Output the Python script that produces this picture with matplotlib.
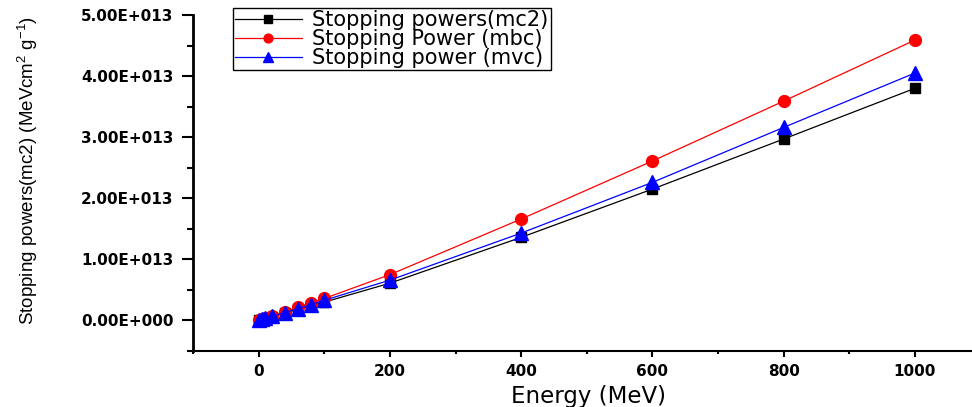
import matplotlib
matplotlib.use("Agg")
import matplotlib.pyplot as plt
from matplotlib.ticker import MultipleLocator, FuncFormatter

energy = [1, 5, 10, 20, 40, 60, 80, 100, 200, 400, 600, 800, 1000]
sp_mc2 = [0.003e13, 0.015e13, 0.03e13, 0.06e13, 0.12e13, 0.18e13, 0.24e13, 0.30e13,
          0.61e13, 1.36e13, 2.15e13, 2.97e13, 3.80e13]
sp_mbc = [0.004e13, 0.018e13, 0.036e13, 0.072e13, 0.145e13, 0.215e13, 0.29e13, 0.36e13,
          0.75e13, 1.66e13, 2.61e13, 3.59e13, 4.59e13]
sp_mvc = [0.0033e13, 0.016e13, 0.033e13, 0.066e13, 0.13e13, 0.195e13, 0.26e13, 0.33e13,
          0.66e13, 1.43e13, 2.26e13, 3.16e13, 4.05e13]
labels = ["Stopping powers(mc2)", "Stopping Power (mbc)", "Stopping power (mvc)"]

fig = plt.figure(figsize=(9.72, 4.07), dpi=100)
ax = fig.add_axes([193/972, 1-351/407, 1-193/972, (351-15)/407])

ax.plot(energy, sp_mc2, color="black", lw=0.9, marker="s", ms=7.5, label=labels[0], zorder=3)
ax.plot(energy, sp_mbc, color="red", lw=0.9, marker="o", ms=8.5, label=labels[1], zorder=3)
ax.plot(energy, sp_mvc, color="blue", lw=0.9, marker="^", ms=9.5, label=labels[2], zorder=4)

ax.set_xlim(-100, 1087)
ax.set_ylim(-0.5e13, 5.0e13)
for s in ["top", "right"]:
    ax.spines[s].set_visible(False)
ax.spines["left"].set_linewidth(2)
ax.spines["bottom"].set_linewidth(1.5)

ax.xaxis.set_major_locator(MultipleLocator(200))
ax.xaxis.set_minor_locator(MultipleLocator(100))
ax.yaxis.set_major_locator(MultipleLocator(1e13))
ax.yaxis.set_minor_locator(MultipleLocator(0.5e13))

def yfmt(v, pos):
    if abs(v) < 1:
        return "0.00E+000"
    return f"{v/1e13:.2f}E+013"
ax.yaxis.set_major_formatter(FuncFormatter(yfmt))

ax.tick_params(axis="y", which="major", direction="out", length=8, width=1.5, pad=6)
ax.tick_params(axis="y", which="minor", direction="out", length=4, width=1.5)
ax.tick_params(axis="x", which="major", direction="out", length=4, width=1.5, pad=5)
ax.tick_params(axis="x", which="minor", direction="out", length=2.5, width=1.5)
for lab in ax.get_xticklabels() + ax.get_yticklabels():
    lab.set_fontfamily("DejaVu Sans")
    lab.set_fontweight("bold")
    lab.set_fontsize(11)

ax.set_xlabel("Energy (MeV)", fontsize=16.5, fontfamily="DejaVu Sans")
ax.xaxis.set_label_coords((588-193)/779, -(396-351)/336)
ax.xaxis.label.set_va("center")
ax.set_ylabel("Stopping powers(mc2) (MeVcm$^{\\mathregular{2}}$ g$^{\\mathregular{-1}}$)",
              fontsize=13.5, fontfamily="Liberation Sans")
ax.yaxis.set_label_coords((28-193)/779, (351-170)/336)
ax.yaxis.label.set_va("center")

leg = fig.legend(loc="upper left", bbox_to_anchor=(233/972, 1-8/407),
                 prop={"family": "DejaVu Sans", "size": 15},
                 frameon=True, fancybox=False, edgecolor="black", framealpha=1,
                 handlelength=3.2, labelspacing=-0.05, borderpad=0.1,
                 handletextpad=0.5, borderaxespad=0, markerscale=0.75)
leg.get_frame().set_linewidth(1)

fig.savefig("out.png", dpi=100)
